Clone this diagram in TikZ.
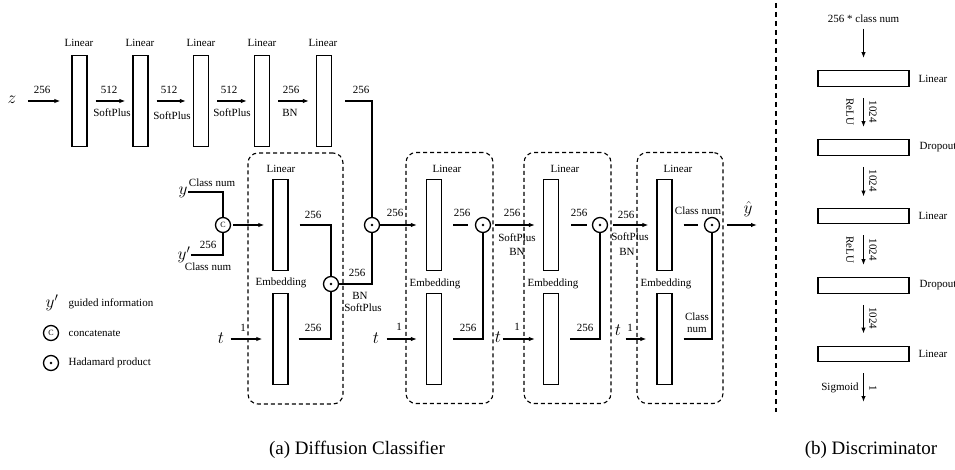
\documentclass[tikz,border=0pt]{standalone}
\usepackage{fontspec}
\setmainfont{Liberation Serif}
\usetikzlibrary{arrows.meta,calc}
\begin{document}
\begin{tikzpicture}[x=1pt,y=-1pt,
  font=\fontsize{11}{12}\selectfont,
  line width=1.3pt,
  vbox/.style={draw, rectangle, minimum width=15pt, minimum height=91pt, inner sep=0pt},
  hbox/.style={draw, rectangle, minimum width=91pt, minimum height=15.5pt, inner sep=0pt},
  group/.style={draw, rectangle, line width=1.1pt, dash pattern=on 4pt off 3pt, rounded corners=10pt, inner sep=0pt, minimum height=251pt},
  hada/.style={draw, circle, minimum size=15pt, inner sep=0pt, path picture={\fill (path picture bounding box.center) circle (1.3pt);}},
  conc/.style={draw, circle, minimum size=15pt, inner sep=0pt, font=\fontsize{8}{8}\selectfont},
  arr/.style={-{Latex[length=6pt,width=4.5pt]}},
  lbl/.style={inner sep=0pt},
  mathl/.style={inner sep=0pt, font=\fontsize{17}{17}\selectfont},
  captext/.style={font=\fontsize{19}{20}\selectfont, inner sep=0pt},
]
\useasboundingbox (0,0) rectangle (955,470);

% ---------- top row ----------
\node[mathl] (z) at (12,100) {$z$};
\node[vbox] (L1) at (79.5,101) {};
\node[vbox] (L2) at (140.5,101) {};
\node[vbox] (L3) at (201,101) {};
\node[vbox] (L4) at (262,101) {};
\node[vbox] (L5) at (324,101) {};
\foreach \n/\x in {L1/79,L2/140,L3/201,L4/262,L5/323}
  \node[lbl] at (\x,43) {Linear};
\draw[arr, shorten <=11pt, shorten >=11pt] (z.east |- L1) -- (L1);
\draw[arr, shorten <=8pt, shorten >=7pt] (L1) -- (L2);
\draw[arr, shorten <=8pt, shorten >=7pt] (L2) -- (L3);
\draw[arr, shorten <=8pt, shorten >=7pt] (L3) -- (L4);
\draw[arr, shorten <=8pt, shorten >=7pt] (L4) -- (L5);
\node[lbl] at (42,90) {256};
\node[lbl] at (109,90) {512};
\node[lbl] at (169,90) {512};
\node[lbl] at (229,90) {512};
\node[lbl] at (291,90) {256};
\node[lbl] at (112,113) {SoftPlus};
\node[lbl] at (172,116) {SoftPlus};
\node[lbl] at (232,113) {SoftPlus};
\node[lbl] at (290,113) {BN};
\node[lbl] at (361,90) {256};

% ---------- groups ----------
\node[group, minimum width=95pt] (G1) at (295.5,278.5) {};
\node[group, minimum width=87pt] (G2) at (449.5,278) {};
\node[group, minimum width=87pt] (G3) at (567.5,278) {};
\node[group, minimum width=86pt] (G4) at (680,278) {};

% ---------- block 1 ----------
\node[vbox] (U1) at (280.5,225) {};
\node[vbox] (D1) at (280.5,339) {};
\node[lbl] at (281,169) {Linear};
\node[lbl] at (281,283) {Embedding};
\node[mathl] (y) at (183,192) {$y$};
\node[mathl] (yp) at (184,255) {$y'$};
\node[conc] (C1) at (223,225) {C};
\draw (y) -| (C1);
\draw (yp) -| (C1);
\node[lbl] at (212,183) {Class num};
\node[lbl] at (208,245) {256};
\node[lbl] at (208,267) {Class num};
\draw[arr, shorten <=2pt, shorten >=8pt] (C1) -- (U1);
\node[hada] (H1) at (331,284) {};
\draw[shorten <=11pt] (U1) -| (H1);
\draw[shorten <=10pt] (D1) -| (H1);
\node[lbl] at (313,215) {256};
\node[lbl] at (313,328) {256};
\node[mathl] (t1) at (221,338) {$t$};
\draw[arr, shorten <=6pt, shorten >=10pt] (t1.east |- D1) -- (D1);
\node[lbl] at (243,328) {1};
\node[hada] (H2) at (372,225) {};
\draw[shorten <=13pt] (L5) -| (H2);
\draw (H1) -| (H2);
\node[lbl] at (357,273) {256};
\node[lbl] at (360,296) {BN};
\node[lbl] at (363,308) {SoftPlus};

% ---------- block 2 ----------
\node[vbox] (U2) at (434,225) {};
\node[vbox] (D2) at (434,339) {};
\node[lbl] at (447,169) {Linear};
\node[lbl] at (435,284) {Embedding};
\draw[arr, shorten >=9pt] (H2) -- (U2);
\node[lbl] at (395,213) {256};
\node[mathl] (t2) at (376,338) {$t$};
\draw[arr, shorten <=7pt, shorten >=9pt] (t2.east |- D2) -- (D2);
\node[lbl] at (399,327) {1};
\node[hada] (H3) at (483,225) {};
\draw[shorten <=11pt, shorten >=7pt] (U2) -- (H3);
\draw[shorten <=11pt] (D2) -| (H3);
\node[lbl] at (462,213) {256};
\node[lbl] at (468,328) {256};

% ---------- block 3 ----------
\node[vbox] (U3) at (551,225) {};
\node[vbox] (D3) at (551,339) {};
\node[lbl] at (565,169) {Linear};
\node[lbl] at (553,284) {Embedding};
\draw[arr, shorten <=4pt, shorten >=8pt] (H3) -- (U3);
\node[lbl] at (512,213) {256};
\node[lbl] at (517,238) {SoftPlus};
\node[lbl] at (517,252) {BN};
\node[mathl] (t3) at (498,337) {$t$};
\draw[arr, shorten <=1pt, shorten >=8pt] (t3.east |- D3) -- (D3);
\node[lbl] at (517,327) {1};
\node[hada] (H4) at (600,225) {};
\draw[shorten <=12pt, shorten >=5pt] (U3) -- (H4);
\draw[shorten <=11pt] (D3) -| (H4);
\node[lbl] at (579,213) {256};
\node[lbl] at (585,328) {256};

% ---------- block 4 ----------
\node[vbox] (U4) at (664.5,225) {};
\node[vbox] (D4) at (664.5,339) {};
\node[lbl] at (678,169) {Linear};
\node[lbl] at (666,284) {Embedding};
\draw[arr, shorten <=5pt, shorten >=8pt] (H4) -- (U4);
\node[lbl] at (626,215) {256};
\node[lbl] at (630,237) {SoftPlus};
\node[lbl] at (627,252) {BN};
\node[mathl] (t4) at (618,330) {$t$};
\draw[arr, shorten <=4pt, shorten >=10pt] (t4.east |- D4) -- (D4);
\node[lbl] at (630,328) {1};
\node[hada] (H5) at (712,225) {};
\draw[shorten <=11pt, shorten >=6pt] (U4) -- (H5);
\draw[shorten <=11pt] (D4) -| (H5);
\node[lbl] at (698,211) {Class num};
\node[lbl] at (697,317) {Class};
\node[lbl] at (697,330) {num};
\coordinate (yout) at (757,225);
\draw[arr, shorten <=7pt] (H5) -- (yout);
\node[mathl] at (748,209) {$\hat{y}$};

% ---------- legend ----------
\node[mathl] (lyp) at (52,303) {$y'$};
\node[lbl, anchor=west] at (68,304) {guided information};
\node[conc] (lc) at (51,333) {C};
\node[lbl, anchor=west] at (68,333) {concatenate};
\node[hada] (lh) at (51,363) {};
\node[lbl, anchor=west] at (68,363) {Hadamard product};

% ---------- separator ----------
\coordinate (s1) at (776,3);
\coordinate (s2) at (776,412);
\draw[dash pattern=on 5pt off 4pt, line width=1.4pt] (s1) -- (s2);

% ---------- discriminator ----------
\node[lbl] (dtop) at (863.5,19) {256 * class num};
\node[hbox] (DA) at (863.5,78.5) {};
\node[hbox] (DB) at (863.5,147.5) {};
\node[hbox] (DC) at (863.5,216) {};
\node[hbox] (DD) at (863.5,285.5) {};
\node[hbox] (DE) at (863.5,354) {};
\coordinate (dend) at (863.5,402);
\draw[arr, shorten <=5pt, shorten >=12pt] (dtop) -- (DA);
\draw[arr, shorten <=11pt, shorten >=12pt] (DA) -- (DB);
\draw[arr, shorten <=11pt, shorten >=11pt] (DB) -- (DC);
\draw[arr, shorten <=11pt, shorten >=12pt] (DC) -- (DD);
\draw[arr, shorten <=11pt, shorten >=12pt] (DD) -- (DE);
\draw[arr, shorten <=11pt] (DE) -- (dend);
\node[lbl, anchor=west] at (918,78.5) {Linear};
\node[lbl, anchor=west] at (919,147.5) {Dropout};
\node[lbl, anchor=west] at (918,216) {Linear};
\node[lbl, anchor=west] at (919,285.5) {Dropout};
\node[lbl, anchor=west] at (918,354) {Linear};
\node[lbl, rotate=-90] at (873,112) {1024};
\node[lbl, rotate=-90] at (850,112) {ReLU};
\node[lbl, rotate=-90] at (873,181) {1024};
\node[lbl, rotate=-90] at (873,250) {1024};
\node[lbl, rotate=-90] at (850,250) {ReLU};
\node[lbl, rotate=-90] at (873,318) {1024};
\node[lbl] at (840,388) {Sigmoid};
\node[lbl, rotate=-90] at (873,388) {1};

% ---------- captions ----------
\node[captext] at (357,450) {(a) Diffusion Classifier};
\node[captext] at (871,450) {(b) Discriminator};
\end{tikzpicture}
\end{document}
